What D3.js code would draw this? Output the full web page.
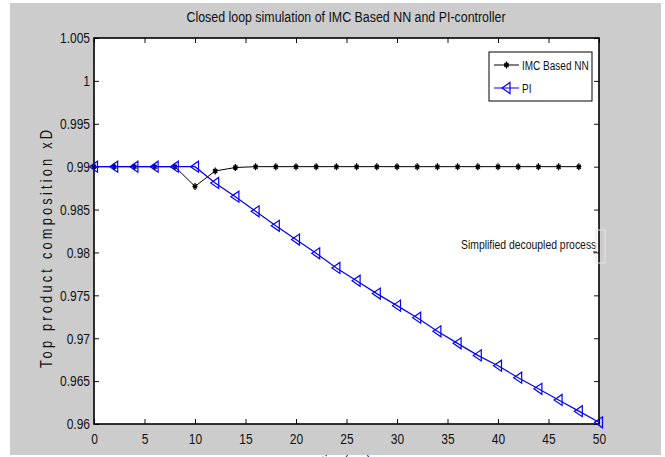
<!DOCTYPE html>
<html>
<head>
<meta charset="utf-8">
<script src="https://cdn.jsdelivr.net/npm/d3@7"></script>
<style>
body { margin: 0; background: #fff; }
svg text { font-family: "Liberation Sans Narrow", "Arial Narrow", "Liberation Sans", sans-serif; fill: #111; }
</style>
</head>
<body>
<svg id="chart" width="665" height="457"></svg>
<script>
// sample times (s)
var timeNN = [0, 2, 4, 6, 8, 10, 12, 14, 16, 18, 20, 22, 24, 26, 28, 30, 32, 34, 36, 38, 40, 42, 44, 46, 48];
var timePI = [0, 2, 4, 6, 8, 10, 12, 14, 16, 18, 20, 22, 24, 26, 28, 30, 32, 34, 36, 38, 40, 42, 44, 46, 48, 50];

var nnValues = [0.99, 0.99, 0.99, 0.99, 0.99, 0.9877, 0.9895, 0.9899, 0.99, 0.99, 0.99, 0.99, 0.99,
	0.99, 0.99, 0.99, 0.99, 0.99, 0.99, 0.99, 0.99, 0.99, 0.99, 0.99, 0.99];
var piValues = [0.99, 0.99, 0.99, 0.99, 0.99, 0.99, 0.9881, 0.9865, 0.9848, 0.9831, 0.9815, 0.9799,
	0.9782, 0.9767, 0.9752, 0.9738, 0.9724, 0.9708, 0.9694, 0.9680, 0.9668, 0.9654, 0.9641,
	0.9628, 0.9615, 0.9602];

var xTicks = [0, 5, 10, 15, 20, 25, 30, 35, 40, 45, 50];
var yTicks = [0.96, 0.965, 0.97, 0.975, 0.98, 0.985, 0.99, 0.995, 1, 1.005];

var seriesNames = ["IMC Based NN", "PI"];

var svg = d3.select("#chart");

// grey figure background
svg.append("rect")
	.attr("x", 10).attr("y", 3)
	.attr("width", 651).attr("height", 452)
	.attr("fill", "#cccccc");

var pLeft = 94, pRight = 599, pTop = 38, pBottom = 424;

var x = d3.scaleLinear().domain([0, 50]).range([pLeft, pRight]);
var y = d3.scaleLinear().domain([0.96, 1.005]).range([pBottom, pTop]);

svg.append("rect")
	.attr("x", pLeft).attr("y", pTop)
	.attr("width", pRight - pLeft).attr("height", pBottom - pTop)
	.attr("fill", "#fff");

// axes, ticks pointing inwards like matlab
var fmt = function(d) { return String(+d.toFixed(3)); };

var xAxis = svg.append("g")
	.attr("transform", "translate(0," + pBottom + ")")
	.call(d3.axisBottom(x).tickValues(xTicks).tickSize(-5).tickPadding(8).tickFormat(fmt));
var xAxisTop = svg.append("g")
	.attr("transform", "translate(0," + pTop + ")")
	.call(d3.axisTop(x).tickValues(xTicks).tickSize(-5).tickFormat(""));
var yAxis = svg.append("g")
	.attr("transform", "translate(" + pLeft + ",0)")
	.call(d3.axisLeft(y).tickValues(yTicks).tickSize(-5).tickPadding(4).tickFormat(fmt));
var yAxisRight = svg.append("g")
	.attr("transform", "translate(" + pRight + ",0)")
	.call(d3.axisRight(y).tickValues(yTicks).tickSize(-5).tickFormat(""));

[xAxis, xAxisTop, yAxis, yAxisRight].forEach(function (a) {
	a.select(".domain").remove();
	a.selectAll("line").attr("stroke", "#111");
	a.selectAll("text").attr("font-size", 15).style("font-family", null).attr("fill", "#111");
});
xAxis.selectAll("text").attr("dy", "0.8em");

svg.append("rect")
	.attr("x", pLeft).attr("y", pTop)
	.attr("width", pRight - pLeft).attr("height", pBottom - pTop)
	.attr("fill", "none").attr("stroke", "#000").attr("stroke-width", 1.6);

// title and labels
svg.append("text")
	.attr("class", "narrow")
	.attr("x", 346).attr("y", 22)
	.attr("text-anchor", "middle")
	.attr("font-size", 15.5)
	.text("Closed loop simulation of IMC Based NN and PI-controller");

svg.append("text")
	.attr("transform", "translate(52,249) rotate(-90) scale(0.8,1)")
	.attr("text-anchor", "middle")
	.attr("font-size", 16)
	.attr("textLength", 238 / 0.8)
	.attr("lengthAdjust", "spacing")
	.text("Top product composition xD");

svg.append("text")
	.attr("class", "narrow")
	.attr("x", 346).attr("y", 466)
	.attr("text-anchor", "middle")
	.attr("font-size", 15)
	.text("time(sec)");

// lines
var line = d3.line().x(function(d) { return x(d[0]); }).y(function(d) { return y(d[1]); });

var nnData = timeNN.map(function(t, i) { return [t, nnValues[i]]; });
var piData = timePI.map(function(t, i) { return [t, piValues[i]]; });

function star(g, cx, cy) {
	g.append("path")
		.attr("d", "M" + cx + "," + (cy - 3.5) + "V" + (cy + 3.5) +
			"M" + (cx - 2.5) + "," + cy + "H" + (cx + 2.5) +
			"M" + (cx - 2) + "," + (cy - 2) + "L" + (cx + 2) + "," + (cy + 2) +
			"M" + (cx - 2) + "," + (cy + 2) + "L" + (cx + 2) + "," + (cy - 2))
		.attr("stroke", "#000").attr("stroke-width", 1.3).attr("fill", "none");
}
function tri(g, cx, cy) {
	g.append("path")
		.attr("d", "M" + (cx - 4.5) + "," + cy + "L" + (cx + 3.5) + "," + (cy - 5.5) +
			"L" + (cx + 3.5) + "," + (cy + 5.5) + "Z")
		.attr("stroke", "#0000ff").attr("stroke-width", 1.2).attr("fill", "none");
}

var plot = svg.append("g");

plot.append("path").datum(nnData)
	.attr("d", line).attr("fill", "none").attr("stroke", "#000").attr("stroke-width", 1);
nnData.forEach(function(d) { star(plot, x(d[0]), y(d[1])); });

plot.append("path").datum(piData)
	.attr("d", line).attr("fill", "none").attr("stroke", "#0000ff").attr("stroke-width", 1.2);
piData.forEach(function(d) { tri(plot, x(d[0]), y(d[1])); });

// legend
var lg = svg.append("g");
lg.append("rect")
	.attr("x", 489).attr("y", 52).attr("width", 103).attr("height", 49)
	.attr("fill", "#fff").attr("stroke", "#000").attr("stroke-width", 1);
lg.append("line").attr("x1", 494).attr("x2", 519).attr("y1", 65).attr("y2", 65)
	.attr("stroke", "#000");
star(lg, 506.5, 65);
lg.append("text").attr("class", "narrow").attr("x", 522).attr("y", 70).attr("font-size", 12.5).text(seriesNames[0]);
lg.append("line").attr("x1", 494).attr("x2", 519).attr("y1", 88).attr("y2", 88)
	.attr("stroke", "#0000ff");
tri(lg, 506.5, 88);
lg.append("text").attr("class", "narrow").attr("x", 522).attr("y", 93).attr("font-size", 12.5).text(seriesNames[1]);

// annotation with its box edge
svg.append("text")
	.attr("class", "narrow")
	.attr("x", 461).attr("y", 249)
	.attr("font-size", 13)
	.text("Simplified decoupled process");
svg.append("rect")
	.attr("x", 596).attr("y", 230).attr("width", 9).attr("height", 33)
	.attr("fill", "none").attr("stroke", "#e4e4e4").attr("stroke-width", 1);
svg.append("line")
	.attr("x1", 593).attr("x2", 597).attr("y1", 252).attr("y2", 252)
	.attr("stroke", "#000");

// squeeze texts to look like the condensed matlab font
svg.selectAll("text.narrow, .tick text").each(function() {
	var w = this.getComputedTextLength();
	if (w > 0) {
		d3.select(this).attr("textLength", w * 0.8).attr("lengthAdjust", "spacingAndGlyphs");
	}
});
</script>
</body>
</html>
